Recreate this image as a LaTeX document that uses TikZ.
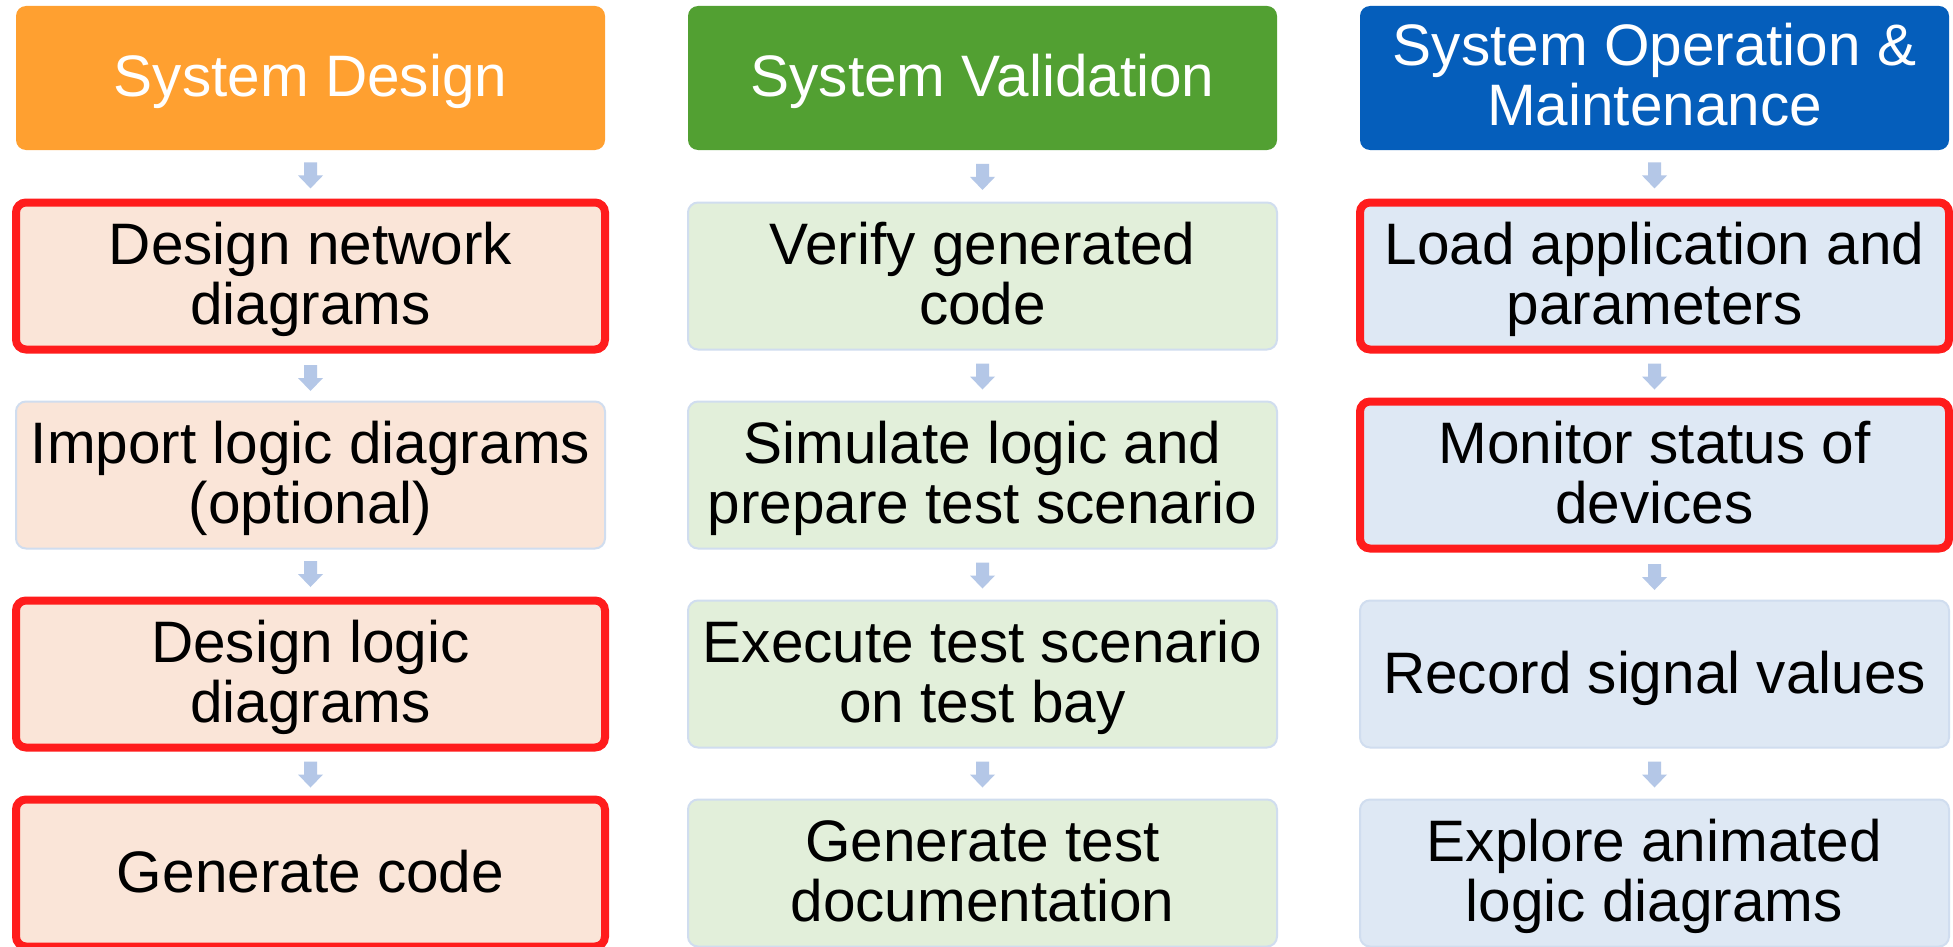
\documentclass[tikz,border=0pt]{standalone}
\usepackage{fontspec}
\setmainfont{Liberation Sans}
\usetikzlibrary{calc}

\definecolor{designorange}{RGB}{255,160,48}
\definecolor{validgreen}{RGB}{82,160,50}
\definecolor{operblue}{RGB}{5,94,187}
\definecolor{designfill}{RGB}{250,229,216}
\definecolor{validfill}{RGB}{226,239,218}
\definecolor{operfill}{RGB}{222,232,244}
\definecolor{edgeblue}{RGB}{208,221,239}
\definecolor{keyred}{RGB}{255,28,28}
\definecolor{arrowblue}{RGB}{180,199,231}

% block arrow placed halfway between two stacked nodes
\newcommand\flowarrow[2]{%
  \coordinate (mid) at ($(#1.south)!0.5!(#2.north)$);
  \fill[flow] ($(mid)+(-6.5,-12)$) -- ($(mid)+(6.5,-12)$) -- ($(mid)+(6.5,1)$)
    -- ($(mid)+(12.5,1)$) -- ($(mid)+(0,14)$) -- ($(mid)+(-12.5,1)$)
    -- ($(mid)+(-6.5,1)$) -- cycle;
}

\begin{document}
\begin{tikzpicture}[x=0.5pt,y=-0.5pt,
  every node/.style={font=\fontsize{29.25pt}{30pt}\selectfont, align=center, inner sep=0pt},
  % fixed text box sizes (baseline = last line) so labels sit alike in every box
  oneline/.style={text height=19pt, text depth=0pt},
  twoline/.style={text height=54pt, text depth=6pt},
  card/.style={rounded corners=5pt, minimum width=294.5pt, minimum height=73.5pt},
  head/.style={card, minimum height=72pt, text=white},
  taskbox/.style={card, draw=edgeblue, line width=1pt},
  keybox/.style={card, draw=keyred, line width=4pt},
  flow/.style={fill=arrowblue}]

\fill[white] (0,0) rectangle (1953,947);
\useasboundingbox (0,0) rectangle (1953,947);

% column 1: design
\node[head, oneline, fill=designorange] (h1) at (310.5,78) {System Design};
\node[keybox, twoline, fill=designfill] (d1) at (310.5,276) {Design network\\diagrams};
\node[taskbox, twoline, fill=designfill] (d2) at (310.5,475) {Import logic diagrams\\(optional)};
\node[keybox, twoline, fill=designfill] (d3) at (310.5,674) {Design logic\\diagrams};
\node[keybox, oneline, fill=designfill] (d4) at (310.5,873) {Generate code};

% column 2: validation
\node[head, oneline, fill=validgreen] (h2) at (982.5,78) {System Validation};
\node[taskbox, twoline, fill=validfill] (v1) at (982.5,276) {Verify generated\\code};
\node[taskbox, twoline, fill=validfill] (v2) at (982.5,475) {Simulate logic and\\prepare test scenario};
\node[taskbox, twoline, fill=validfill] (v3) at (982.5,674) {Execute test scenario\\on test bay};
\node[taskbox, twoline, fill=validfill] (v4) at (982.5,873) {Generate test\\documentation};

% column 3: operation and maintenance
\node[head, twoline, fill=operblue] (h3) at (1654.5,78) {System Operation \&\\Maintenance};
\node[keybox, twoline, fill=operfill] (o1) at (1654.5,276) {Load application and\\parameters};
\node[keybox, twoline, fill=operfill] (o2) at (1654.5,475) {Monitor status of\\devices};
\node[taskbox, oneline, fill=operfill] (o3) at (1654.5,674) {Record signal values};
\node[taskbox, twoline, fill=operfill] (o4) at (1654.5,873) {Explore animated\\logic diagrams};

% connectors
\flowarrow{h1}{d1}\flowarrow{d1}{d2}\flowarrow{d2}{d3}\flowarrow{d3}{d4}
\flowarrow{h2}{v1}\flowarrow{v1}{v2}\flowarrow{v2}{v3}\flowarrow{v3}{v4}
\flowarrow{h3}{o1}\flowarrow{o1}{o2}\flowarrow{o2}{o3}\flowarrow{o3}{o4}
\end{tikzpicture}
\end{document}
